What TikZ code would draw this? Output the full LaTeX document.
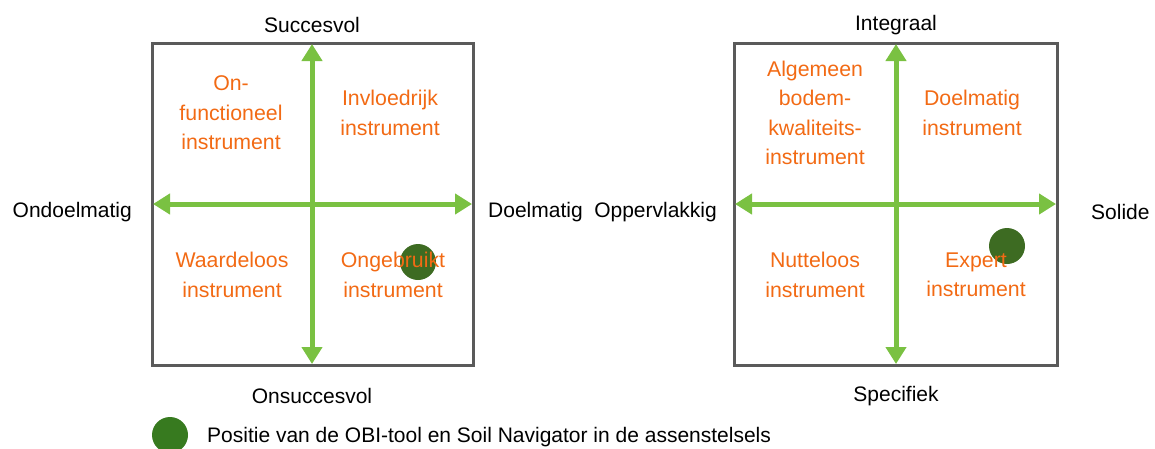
\documentclass[tikz,border=0pt]{standalone}
\usepackage{fontspec}
\setmainfont{Liberation Sans}
\usetikzlibrary{arrows.meta}
\definecolor{axisgreen}{RGB}{122,193,66}
\definecolor{dotgreen}{RGB}{61,107,34}
\definecolor{quadorange}{RGB}{242,106,20}
\definecolor{boxgray}{RGB}{90,90,90}
\tikzset{
  axis/.style={{Triangle[length=17pt,width=20pt]}-{Triangle[length=17pt,width=20pt]}, line width=5pt, axisgreen},
  frame/.style={draw=boxgray, line width=3pt},
  quad/.style={text=quadorange, align=center, font=\fontsize{21.3}{29.5}\selectfont},
  axlabel/.style={text=black, font=\fontsize{21}{24}\selectfont},
  posdot/.style={circle, fill=dotgreen, inner sep=0pt, minimum size=36pt}
}
\begin{document}
\begin{tikzpicture}[x=1pt, y=-1pt]
\useasboundingbox (0,0) rectangle (1155,448);
% left diagram
\draw[frame] (152,43) rectangle (473,365);
\coordinate (lN) at (312,44);
\coordinate (lS) at (312,364);
\coordinate (lW) at (153,204);
\coordinate (lE) at (472,204);
\draw[axis] (lW) -- (lE);
\draw[axis] (lN) -- (lS);
\node[posdot] (ldot) at (418,262) {};
\node[axlabel] (succes) at (312,25) {Succesvol};
\node[axlabel] (onsucces) at (312,396) {Onsuccesvol};
\node[axlabel, anchor=east, inner sep=0pt] (ondoel) at (132,212) {Ondoelmatig};
\node[axlabel, anchor=west, inner sep=0pt] (doel) at (488,212) {Doelmatig};
\node[quad] (onfunc) at (231,113) {On-\\functioneel\\instrument};
\node[quad] (invloed) at (390,113) {Invloedrijk\\instrument};
\node[quad] (waarde) at (232,275) {Waardeloos\\instrument};
\node[quad] (ongebr) at (393,275) {Ongebruikt\\instrument};
% right diagram
\draw[frame] (734,43) rectangle (1057,365);
\coordinate (rN) at (896,44);
\coordinate (rS) at (896,364);
\coordinate (rW) at (735,204);
\coordinate (rE) at (1056,204);
\draw[axis] (rW) -- (rE);
\draw[axis] (rN) -- (rS);
\node[posdot] (rdot) at (1007,246) {};
\node[axlabel] (integraal) at (896,25) {Integraal};
\node[axlabel] (specifiek) at (896,396) {Specifiek};
\node[axlabel, anchor=east, inner sep=0pt] (opperv) at (717,212) {Oppervlakkig};
\node[axlabel, anchor=west, inner sep=0pt] (solide) at (1091,212) {Solide};
\node[quad] (algemeen) at (815,113) {Algemeen\\bodem-\\kwaliteits-\\instrument};
\node[quad] (doelm) at (972,113) {Doelmatig\\instrument};
\node[quad] (nuttel) at (815,275) {Nutteloos\\instrument};
\node[quad] (expert) at (976,275) {Expert\\instrument};
% legend
\node[posdot, fill=dotgreen!90!green] (legdot) at (170,435) {};
\node[axlabel, anchor=west, inner sep=0pt] (legtext) at (207,437) {Positie van de OBI-tool en Soil Navigator in de assenstelsels};
\end{tikzpicture}
\end{document}
